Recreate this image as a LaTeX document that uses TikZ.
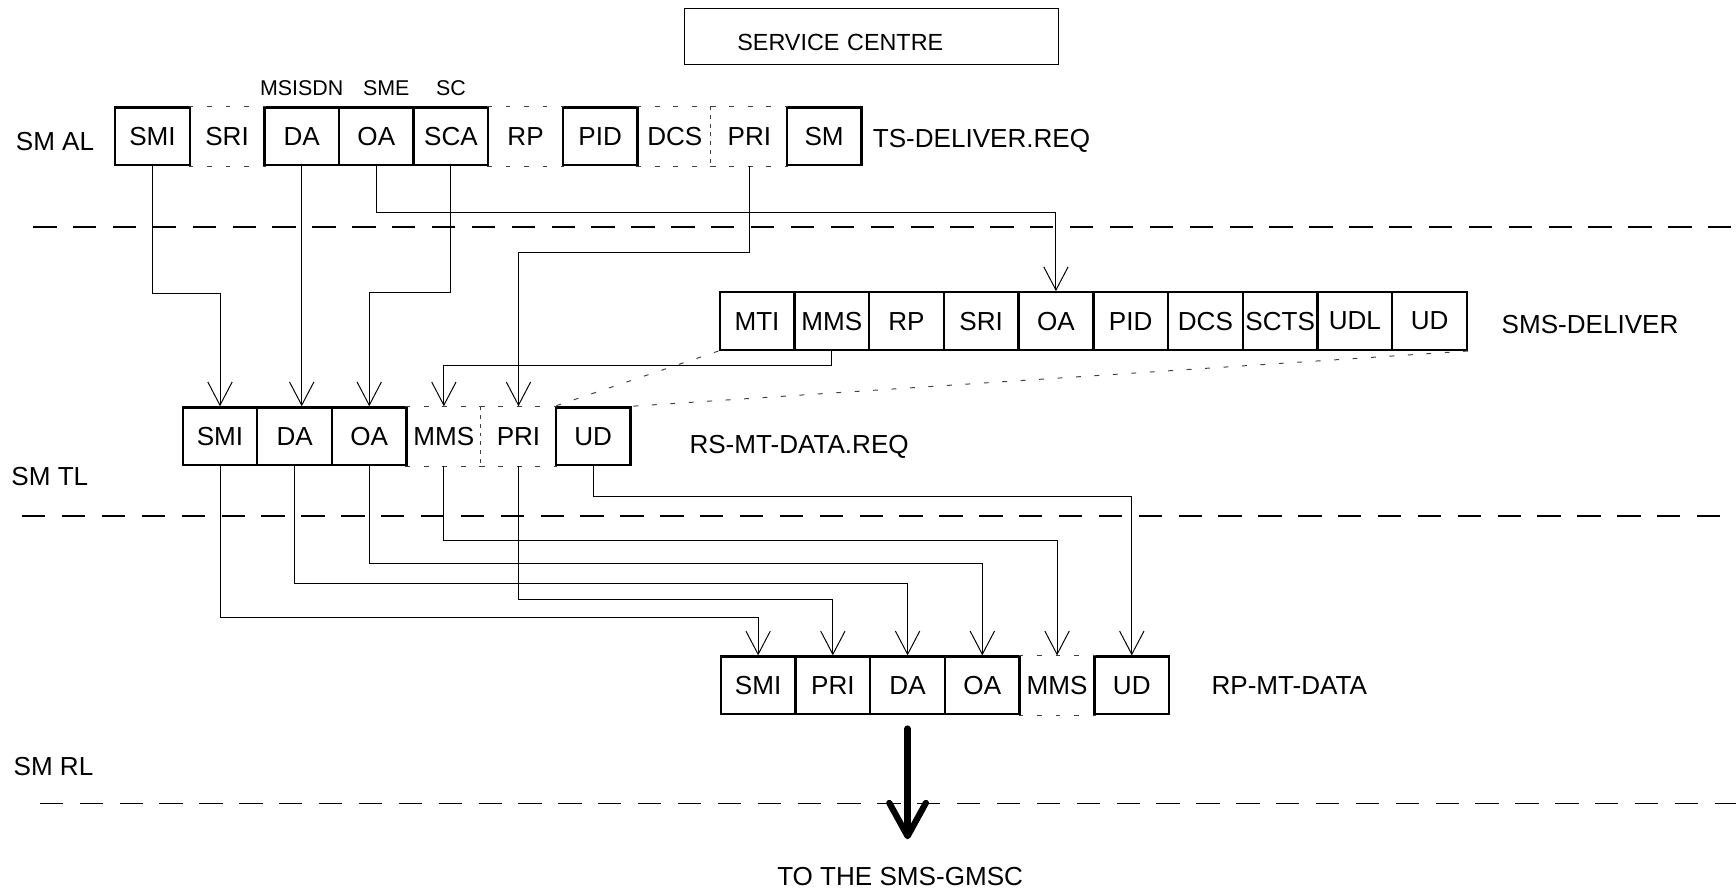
\documentclass[tikz,border=0pt]{standalone}
\usepackage{fontspec}
\setmainfont{Liberation Sans}
\usetikzlibrary{arrows.meta,positioning}
\newcommand{\mainsz}{\fontsize{13.4}{16}\selectfont}
\newcommand{\smallsz}{\fontsize{11}{13}\selectfont}
\newcommand{\scsz}{\fontsize{12}{14}\selectfont}

\begin{document}
\begin{tikzpicture}[x=0.02cm, y=-0.02cm,
      fld/.style={draw,line width=1.2pt,minimum width=1.348cm,minimum height=1.04cm,inner sep=0pt,font=\mainsz},
      fldo/.style={fld,draw=none},
      dotln/.style={line width=0.5pt,black!75,dash pattern=on 2.5pt off 7pt},
      divln/.style={line width=0.5pt,black!75,dash pattern=on 2pt off 2.5pt},
      sep/.style={line width=0.6pt,dash pattern=on 12pt off 8.5pt},
      link/.style={line width=0.5pt,-{Straight Barb[length=4.2mm,width=4.4mm]}},
      bigarr/.style={line width=3.2pt,line cap=round,-{Straight Barb[length=6mm,width=6.6mm,round]}},
      lbl/.style={inner sep=0pt,font=\mainsz}]
    \useasboundingbox (0,0) rectangle (1568,807);
    % layer borders
    \draw[sep] (30,205) -- (1568,205);
    \draw[sep] (20,466) -- (1568,466);
    \draw[sep] (36,726) -- (1568,726);
    \node[draw,line width=0.6pt,minimum height=1cm,inner xsep=0.96cm,text width=4.84cm,text height=0.5cm,align=left,font=\scsz] (sc) at (787,33) {SERVICE CENTRE};
    \node[lbl,anchor=west] (lay-al) at (14,128) {SM AL};
    \node[lbl,anchor=west] (lay-tl) at (10,430) {SM TL};
    \node[lbl,anchor=west] (lay-rl) at (12,692) {SM RL};
    % TS-DELIVER.REQ
    \foreach \lab/\i in {SMI/1,DA/3,OA/4,SCA/5,PID/7,SM/10} { \node[fld] (al-\lab) at ({104+67.4*(\i-0.5)},123) {\lab}; }
    \foreach \lab/\i in {SRI/2,RP/6,DCS/8,PRI/9} { \node[fldo] (al-\lab) at ({104+67.4*(\i-0.5)},123) {\lab}; }
    \node[lbl,right=0.18cm of al-SM,yshift=-0.08cm] (tsdeliver) {TS-DELIVER.REQ};
    \node[lbl,font=\smallsz,above=0.18cm of al-DA] (msisdn) {MSISDN};
    \node[lbl,font=\smallsz,above=0.18cm of al-OA,xshift=0.18cm] (sme) {SME};
    \node[lbl,font=\smallsz,above=0.18cm of al-SCA] (scaddr) {SC};
    % SMS-DELIVER
    \foreach \lab [count=\i] in {MTI,MMS,RP,SRI,OA,PID,DCS,SCTS,UDL,UD} { \node[fld] (dl-\lab) at ({650+67.5*(\i-0.5)},290) {\lab}; }
    \node[lbl,right=0.6cm of dl-UD,yshift=-0.06cm] (smsdeliver) {SMS-DELIVER};
    % RS-MT-DATA.REQ
    \foreach \lab/\i in {SMI/1,DA/2,OA/3,UD/6} { \node[fld] (tl-\lab) at ({165+67.4*(\i-0.5)},394) {\lab}; }
    \foreach \lab/\i in {MMS/4,PRI/5} { \node[fldo] (tl-\lab) at ({165+67.4*(\i-0.5)},394) {\lab}; }
    \node[lbl,right=1.04cm of tl-UD,yshift=-0.2cm] (rsmtdata) {RS-MT-DATA.REQ};
    % RP-MT-DATA
    \foreach \lab/\i in {SMI/1,PRI/2,DA/3,OA/4,UD/6} { \node[fld] (rl-\lab) at ({651+67.5*(\i-0.5)},619) {\lab}; }
    \node[fldo] (rl-MMS) at ({651+67.5*4.5},619) {MMS};
    \node[lbl,right=0.74cm of rl-UD] (rpmtdata) {RP-MT-DATA};
    % open fields
    \foreach \n in {al-SRI,al-RP,al-DCS,al-PRI,tl-MMS,tl-PRI,rl-MMS} {
      \draw[dotln] (\n.north west) -- (\n.north east) (\n.south west) -- (\n.south east);
    }
    \draw[divln] (al-PRI.north west) -- (al-PRI.south west);
    \draw[divln] (tl-PRI.north west) -- (tl-PRI.south west);
    \draw[dotln] (dl-MTI.south west) -- (tl-UD.north west);
    \draw[dotln] (dl-UD.south east) -- (tl-UD.north east);
    % AL -> TL
    \draw[link] (al-SMI.south) -- ++(0,115) -| (tl-SMI.north);
    \draw[link] (al-DA.south) -- (al-DA.south |- tl-DA.north);
    \draw[link] (al-SCA.south) -- ++(0,114) -| (tl-OA.north);
    \draw[link] (al-OA.south) -- ++(0,42) -| (dl-OA.north);
    \draw[link] (al-PRI.south) -- ++(0,78) -| (tl-PRI.north);
    \draw[link] (dl-MMS.south) -- ++(0,13) -| (tl-MMS.north);
    % TL -> RL
    \draw[link] (tl-SMI.south) -- ++(0,137) -| (rl-SMI.north);
    \draw[link] (tl-DA.south) -- ++(0,106) -| (rl-DA.north);
    \draw[link] (tl-OA.south) -- ++(0,88) -| (rl-OA.north);
    \draw[link] (tl-MMS.south) -- ++(0,67) -| (rl-MMS.north);
    \draw[link] (tl-PRI.south) -- ++(0,120) -| (rl-PRI.north);
    \draw[link] (tl-UD.south) -- ++(0,27) -| (rl-UD.north);
    \node[lbl] (gmsc) at (813,792) {TO THE SMS-GMSC};
    \draw[bigarr] ([yshift=-0.24cm]rl-DA.south) -- ++(0,100);
  \end{tikzpicture}
\end{document}
